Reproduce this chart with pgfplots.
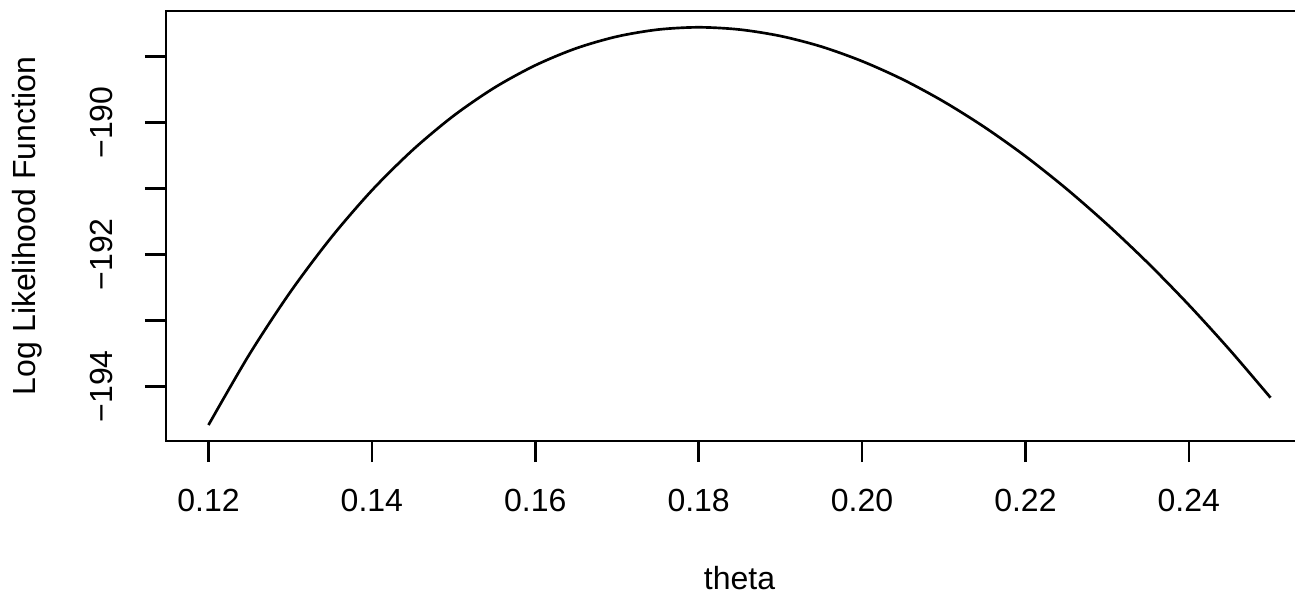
\documentclass[border=0pt]{standalone}
\usepackage{fontspec}
\setmainfont{Liberation Sans}
\usepackage{pgfplots}
\pgfplotsset{compat=1.18}
\begin{document}
\begin{tikzpicture}
\begin{axis}[
  scale only axis,
  width=430.125pt, height=161.25pt,
  xmin=0.1148, xmax=0.2552,
  ymin=-194.83, ymax=-188.31,
  axis line style={black, line width=1pt},
  xtick={0.12,0.14,0.16,0.18,0.20,0.22,0.24},
  xticklabels={0.12,0.14,0.16,0.18,0.20,0.22,0.24},
  ytick={-194,-193,-192,-191,-190,-189},
  yticklabels={−194,{},−192,{},−190,{}},
  xtick pos=lower, ytick pos=lower,
  tick align=outside,
  major tick length=7.9pt,
  tick style={black, line width=1pt},
  tick label style={font=\fontsize{12}{14}\selectfont},
  xticklabel style={anchor=north, inner sep=0pt},
  yticklabel style={rotate=90, anchor=base, inner sep=0pt},
  xticklabel shift=9.8pt,
  yticklabel shift=12pt,
  xlabel={theta},
  ylabel={Log Likelihood Function},
  label style={font=\fontsize{12}{14}\selectfont},
  xlabel style={at={(axis description cs:0.5,-0.3442)}, anchor=base, inner sep=0pt},
  ylabel style={at={(axis description cs:-0.1142,0.5)}, rotate=0, anchor=base, inner sep=0pt},
]
\addplot[black, line width=1pt, smooth] coordinates {
(0.120,-194.588) (0.125,-193.518) (0.130,-192.574) (0.135,-191.748)
(0.140,-191.030) (0.145,-190.417) (0.150,-189.899) (0.155,-189.473)
(0.160,-189.134) (0.165,-188.876) (0.170,-188.697) (0.175,-188.592)
(0.180,-188.557) (0.185,-188.591) (0.190,-188.689) (0.195,-188.849)
(0.200,-189.071) (0.205,-189.349) (0.210,-189.684) (0.215,-190.072)
(0.220,-190.512) (0.225,-191.004) (0.230,-191.545) (0.235,-192.132)
(0.240,-192.767) (0.245,-193.448) (0.250,-194.173)
};
\end{axis}
\pgfresetboundingbox
\useasboundingbox (-62.25pt,-57.75pt) rectangle (423.375pt,165.375pt);
\end{tikzpicture}
\end{document}
